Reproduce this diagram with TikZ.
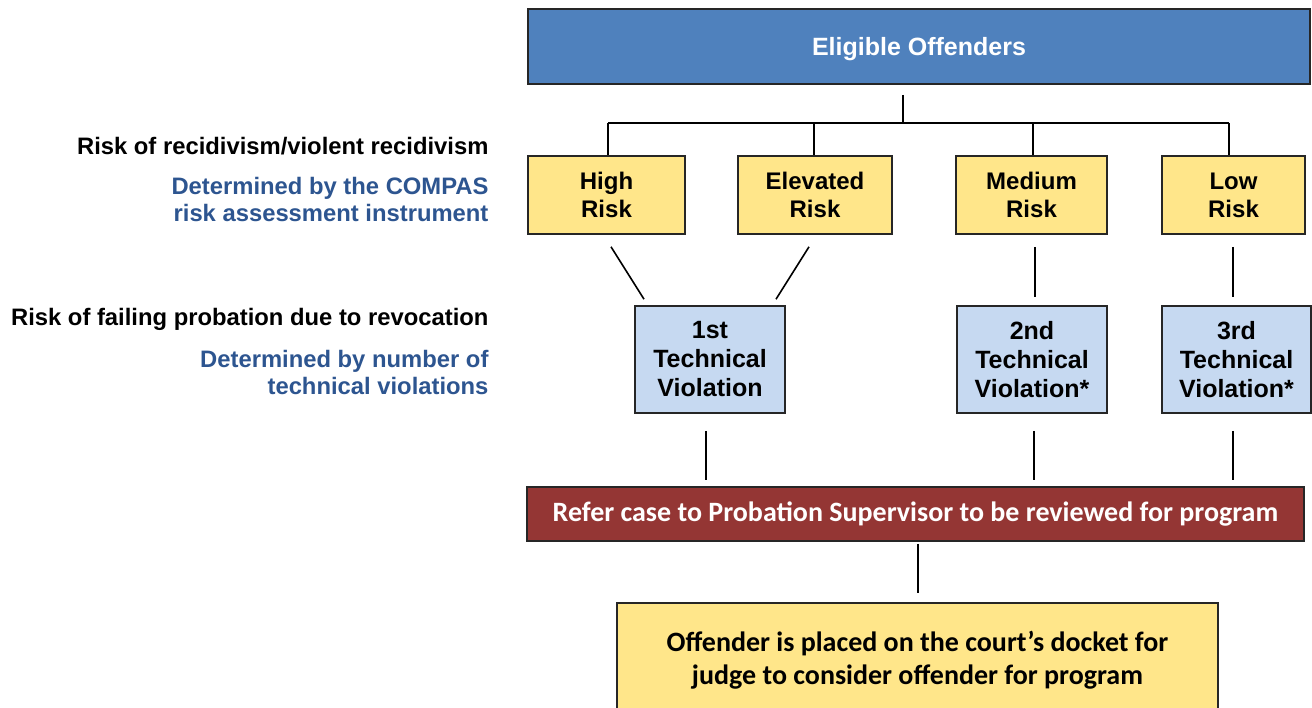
\documentclass[tikz,border=0pt]{standalone}
\usepackage{fontspec}
\setmainfont{Liberation Sans}
\newfontfamily\calib{Carlito}
\definecolor{topblue}{HTML}{4F81BD}
\definecolor{riskyellow}{HTML}{FFE68A}
\definecolor{violblue}{HTML}{C6D9F1}
\definecolor{refred}{HTML}{943634}
\definecolor{notblue}{HTML}{2D5590}
\begin{document}
\begin{tikzpicture}[x=1pt,y=-1pt,
  box/.style={draw=black!85,line width=1.6pt,inner sep=0pt,align=center,font=\bfseries\fontsize{24}{28}\selectfont},
  riskbox/.style={box,fill=riskyellow,minimum height=78pt},
  violbox/.style={box,fill=violblue,minimum height=107pt,minimum width=150pt,font=\bfseries\fontsize{25}{29}\selectfont},
  conn/.style={line width=1.6pt,black},
  lefthead/.style={anchor=east,font=\bfseries\fontsize{23.8}{27}\selectfont,align=right},
  leftnote/.style={anchor=east,font=\bfseries\fontsize{23.8}{27}\selectfont,align=right,text=notblue}]
\useasboundingbox (0,0) rectangle (1312,708);
% top
\node[box,fill=topblue,text=white,minimum width=782pt,minimum height=75pt,text height=24pt,text depth=5pt,font=\bfseries\fontsize{25}{30}\selectfont] (top) at (919,46.5) {Eligible Offenders};
% risk boxes
\node[riskbox,minimum width=157pt] (high) at (606.5,195) {High\\Risk};
\node[riskbox,minimum width=154pt] (elev) at (815,195) {Elevated\\Risk};
\node[riskbox,minimum width=151pt] (med) at (1031.5,195) {Medium\\Risk};
\node[riskbox,minimum width=143pt] (low) at (1233.5,195) {Low\\Risk};
% violation boxes
\node[violbox] (v1) at (710,359.5) {1st\\Technical\\Violation};
\node[violbox] (v2) at (1032,359.5) {2nd\\Technical\\Violation*};
\node[violbox,minimum width=149pt] (v3) at (1236.5,359.5) {3rd\\Technical\\Violation*};
% refer
\node[box,fill=refred,text=white,minimum width=777pt,minimum height=54pt,font=\calib\bfseries\fontsize{28}{32}\selectfont] (refer) at (915.5,514) {Refer case to Probation Supervisor to be reviewed for program};
% docket
\node[box,fill=riskyellow,minimum width=601pt,minimum height=114pt,font=\calib\bfseries\fontsize{28}{33}\selectfont] (dock) at (917.5,660) {Offender is placed on the court’s docket for\\judge to consider offender for program};
% left labels
\node[lefthead] (l1) at (492,146) {Risk of recidivism/violent recidivism};
\node[leftnote] (l2) at (492,199.5) {Determined by the COMPAS\\risk assessment instrument};
\node[lefthead] (l3) at (492,319) {Risk of failing probation due to revocation};
\node[leftnote] (l4) at (492,372.5) {Determined by number of\\technical violations};
% tree connector
\coordinate (bus) at (903,123);
\draw[conn] ([xshift=-16pt,yshift=-10pt]top.south) -- (bus);
\draw[conn] ([xshift=1.5pt]high.north |- bus) -- ([xshift=-4.5pt]low.north |- bus);
\draw[conn] ([xshift=1.5pt]high.north |- bus) -- ([xshift=1.5pt]high.north);
\draw[conn] ([xshift=-1pt]elev.north |- bus) -- ([xshift=-1pt]elev.north);
\draw[conn] ([xshift=1.5pt]med.north |- bus) -- ([xshift=1.5pt]med.north);
\draw[conn] ([xshift=-4.5pt]low.north |- bus) -- ([xshift=-4.5pt]low.north);
% risk to violation
\draw[conn] ([xshift=4.5pt,yshift=-12pt]high.south) -- ([xshift=-66pt,yshift=6pt]v1.north);
\draw[conn] ([xshift=-6pt,yshift=-12pt]elev.south) -- ([xshift=66pt,yshift=6pt]v1.north);
\draw[conn] ([xshift=3.5pt,yshift=-12pt]med.south) -- ([xshift=3pt,yshift=8pt]v2.north);
\draw[conn] ([xshift=-0.5pt,yshift=-12pt]low.south) -- ([xshift=-3.5pt,yshift=8pt]v3.north);
% violation to refer
\draw[conn] ([xshift=-4pt,yshift=-17pt]v1.south) -- ([xshift=-4pt,yshift=6pt]v1.south |- refer.north);
\draw[conn] ([xshift=2pt,yshift=-17pt]v2.south) -- ([xshift=2pt,yshift=6pt]v2.south |- refer.north);
\draw[conn] ([xshift=-3.5pt,yshift=-17pt]v3.south) -- ([xshift=-3.5pt,yshift=6pt]v3.south |- refer.north);
% refer to docket
\draw[conn] ([xshift=2.5pt,yshift=-2pt]refer.south) -- ([xshift=0.5pt,yshift=9pt]dock.north);
\end{tikzpicture}
\end{document}
